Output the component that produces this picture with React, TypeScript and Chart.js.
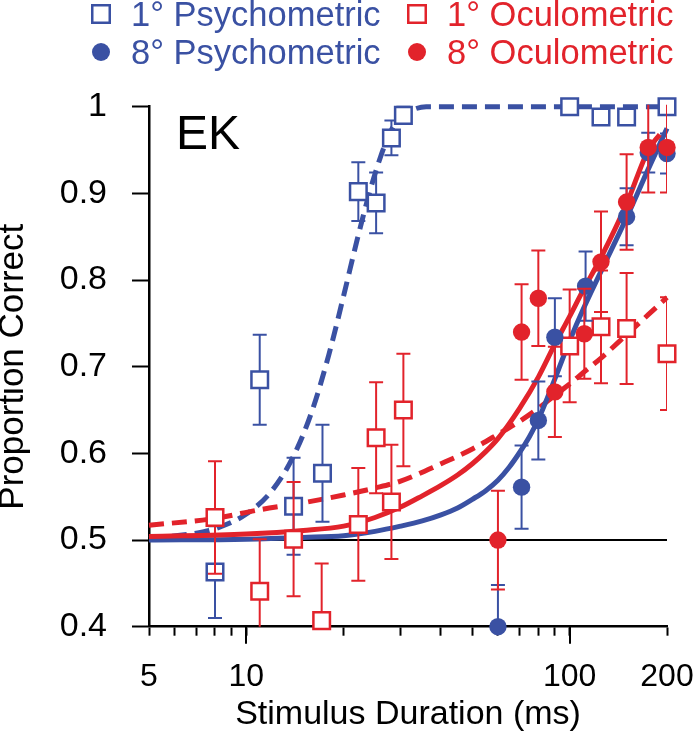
import React, { useEffect, useRef } from "react";
import { Chart, registerables } from "chart.js";

Chart.register(...registerables);

const BLUE = "#3a51a3";
const RED = "#e2232b";
const FONT = "'Liberation Sans', Arial, Helvetica, sans-serif";

// axis ticks
const xTicks = [5, 6, 7, 8, 9, 10, 20, 30, 40, 50, 60, 70, 80, 90, 100, 200];
const xMajorTicks = [10, 100];
const xLabelValues = [5, 10, 100, 200];
const xLabelTexts = ["5", "10", "100", "200"];
const yTicks = [0.4, 0.5, 0.6, 0.7, 0.8, 0.9, 1];
const yTickLabels = ["0.4", "0.5", "0.6", "0.7", "0.8", "0.9", "1"];

// 1° Psychometric (open blue squares)
const psy1X = [8, 11, 14, 17.2, 22.2, 25.2, 28.1, 30.6, 100, 125, 150, 200];
const psy1Y = [0.463, 0.685, 0.539, 0.577, 0.902, 0.889, 0.964, 0.99, 1.0, 0.988, 0.988, 1.0];
const psy1Err = [0.053, 0.052, 0.056, 0.056, 0.034, 0.035, 0.02, 0.01, 0, 0.006, 0.006, 0];

// 1° Oculometric (open red squares)
const ocu1X = [8, 11, 14, 17.1, 22.2, 25.2, 28.1, 30.6, 100, 125, 150, 200];
const ocu1Y = [0.526, 0.441, 0.501, 0.407, 0.518, 0.618, 0.544, 0.65, 0.724, 0.746, 0.744, 0.715];
const ocu1Err = [0.065, 0.06, 0.066, 0.066, 0.065, 0.064, 0.066, 0.065, 0.065, 0.065, 0.064, 0.065];

// 8° Psychometric (filled blue circles)
const psy8X = [60, 71, 80, 90, 112, 150, 175, 200];
const psy8Y = [0.4, 0.561, 0.638, 0.734, 0.793, 0.873, 0.947, 0.946];
const psy8Err = [0.048, 0.048, 0.045, 0.045, 0.04, 0.033, 0.023, 0.023];

// 8° Oculometric (filled red circles)
const ocu8X = [60, 71, 80, 90, 111, 125, 150, 175, 200];
const ocu8Y = [0.5, 0.74, 0.779, 0.671, 0.738, 0.821, 0.89, 0.953, 0.953];
const ocu8Err = [0.057, 0.055, 0.055, 0.052, 0.052, 0.058, 0.055, 0.052, 0.052];

// fitted curves
const fitPsy1X = [5, 7, 8, 10, 12, 14, 16, 18, 20, 22, 24, 26, 28, 30, 33, 36, 40, 60, 100, 150, 200];
const fitPsy1Y = [0.502, 0.508, 0.513, 0.53, 0.557, 0.597, 0.65, 0.714, 0.782, 0.846, 0.9, 0.942, 0.972, 0.988, 0.997, 1.0, 1.0, 1.0, 1.0, 1.0, 1.0];

const fitOcu1X = [5, 8, 11, 15, 20, 25, 30, 40, 50, 60, 70, 80, 90, 100, 110, 125, 150, 175, 200];
const fitOcu1Y = [0.517, 0.525, 0.535, 0.543, 0.552, 0.56, 0.568, 0.588, 0.605, 0.622, 0.637, 0.652, 0.667, 0.68, 0.693, 0.71, 0.737, 0.76, 0.78];

const fitPsy8X = [5, 10, 15, 20, 25, 30, 35, 40, 45, 50, 55, 60, 65, 70, 75, 80, 90, 100, 110, 125, 150, 175, 200];
const fitPsy8Y = [0.5, 0.501, 0.503, 0.505, 0.51, 0.516, 0.522, 0.529, 0.537, 0.547, 0.557, 0.569, 0.584, 0.601, 0.619, 0.639, 0.686, 0.73, 0.766, 0.81, 0.872, 0.928, 0.975];

const fitOcu8X = [5, 10, 15, 20, 25, 30, 35, 40, 45, 50, 55, 60, 70, 80, 90, 100, 110, 125, 150, 175, 190];
const fitOcu8Y = [0.504, 0.507, 0.511, 0.516, 0.526, 0.538, 0.551, 0.563, 0.575, 0.588, 0.602, 0.617, 0.652, 0.688, 0.726, 0.758, 0.788, 0.826, 0.888, 0.95, 0.968];

// chance line
const chanceX = [5, 200];
const chanceY = [0.5, 0.5];

const pts = (xs: number[], ys: number[]) => xs.map((x, i) => ({ x, y: ys[i] }));

const legendItems = [
  { label: "1° Psychometric", color: BLUE, marker: "square", left: 91, top: -3 },
  { label: "1° Oculometric", color: RED, marker: "square", left: 407, top: -3 },
  { label: "8° Psychometric", color: BLUE, marker: "circle", left: 91, top: 35 },
  { label: "8° Oculometric", color: RED, marker: "circle", left: 407, top: 35 },
];

export default function App() {
  const ref = useRef<HTMLCanvasElement>(null);

  useEffect(() => {
    if (!ref.current) return;

    const errorBars = {
      id: "errorBars",
      beforeDatasetDraw(chart: any, args: any) {
        const ds = chart.data.datasets[args.index];
        if (!ds.errors) return;
        const { ctx, chartArea } = chart;
        const xs = chart.scales.x;
        const ys = chart.scales.y;
        ctx.save();
        ctx.beginPath();
        ctx.rect(chartArea.left, chartArea.top - 2, chartArea.right - chartArea.left, chartArea.bottom - chartArea.top + 2);
        ctx.clip();
        ctx.strokeStyle = ds.barColor;
        ctx.lineWidth = 2;
        ds.data.forEach((p: any, i: number) => {
          const e = ds.errors[i];
          if (!e) return;
          const px = xs.getPixelForValue(p.x);
          const y1 = ys.getPixelForValue(p.y + e);
          const y2 = ys.getPixelForValue(p.y - e);
          ctx.beginPath();
          ctx.moveTo(px, y1);
          ctx.lineTo(px, y2);
          ctx.moveTo(px - 7, y1);
          ctx.lineTo(px + 7, y1);
          ctx.moveTo(px - 7, y2);
          ctx.lineTo(px + 7, y2);
          ctx.stroke();
        });
        ctx.restore();
      },
    };

    const majorTicks = {
      id: "majorTicks",
      beforeDatasetsDraw(chart: any) {
        const { ctx, chartArea } = chart;
        const xs = chart.scales.x;
        ctx.save();
        ctx.strokeStyle = "#000";
        ctx.lineWidth = 2;
        xMajorTicks.forEach((v) => {
          const px = Math.round(xs.getPixelForValue(v));
          ctx.beginPath();
          ctx.moveTo(px, chartArea.bottom);
          ctx.lineTo(px, chartArea.bottom + 17);
          ctx.stroke();
        });
        ctx.restore();
      },
    };

    const curve = (xs: number[], ys: number[], color: string, dashed: boolean, order: number) => ({
      data: pts(xs, ys),
      showLine: true,
      borderColor: color,
      borderWidth: 5,
      borderDash: dashed ? [15, 8] : [],
      pointRadius: 0,
      cubicInterpolationMode: "monotone",
      clip: false,
      order,
    });

    const squares = (xs: number[], ys: number[], err: number[], color: string, order: number) => ({
      data: pts(xs, ys),
      errors: err,
      barColor: color,
      pointStyle: "rect",
      pointRadius: 11.7,
      pointBorderWidth: 2.5,
      pointBorderColor: color,
      pointBackgroundColor: "#fff",
      borderColor: color,
      backgroundColor: "#fff",
      clip: false,
      order,
    });

    const circles = (xs: number[], ys: number[], err: number[], color: string, order: number) => ({
      data: pts(xs, ys),
      errors: err,
      barColor: color,
      pointStyle: "circle",
      pointRadius: 8.7,
      pointBorderWidth: 0,
      pointBackgroundColor: color,
      borderColor: color,
      backgroundColor: color,
      clip: false,
      order,
    });

    const chart = new Chart(ref.current, {
      type: "scatter",
      data: {
        datasets: [
          circles(ocu8X, ocu8Y, ocu8Err, RED, 1),
          circles(psy8X, psy8Y, psy8Err, BLUE, 2),
          squares(ocu1X, ocu1Y, ocu1Err, RED, 3),
          squares(psy1X, psy1Y, psy1Err, BLUE, 4),
          curve(fitOcu8X, fitOcu8Y, RED, false, 5),
          curve(fitPsy8X, fitPsy8Y, BLUE, false, 6),
          curve(fitOcu1X, fitOcu1Y, RED, true, 7),
          curve(fitPsy1X, fitPsy1Y, BLUE, true, 8),
          {
            data: pts(chanceX, chanceY),
            showLine: true,
            borderColor: "#000",
            borderWidth: 2,
            pointRadius: 0,
            order: 9,
          },
        ] as any,
      },
      options: {
        animation: false,
        responsive: false,
        maintainAspectRatio: false,
        devicePixelRatio: 1,
        layout: { padding: { top: 106.7, right: 30, left: 0, bottom: 0 } },
        plugins: {
          legend: { display: false },
          tooltip: { enabled: false },
        },
        scales: {
          x: {
            type: "logarithmic",
            min: 5,
            max: 200,
            afterBuildTicks: (s: any) => {
              s.ticks = xTicks.map((v) => ({ value: v }));
            },
            afterFit: (s: any) => {
              s.height = 106.3;
              s.paddingLeft = 0;
              s.paddingRight = 0;
            },
            grid: { drawOnChartArea: false, drawTicks: true, tickLength: 9, tickWidth: 2, tickColor: "#000" },
            border: { display: true, color: "#000", width: 2.5 },
            ticks: {
              autoSkip: false,
              maxRotation: 0,
              padding: 22,
              color: "#000",
              font: { family: FONT, size: 32, lineHeight: 1.2 },
              callback: (v: any) => {
                const i = xLabelValues.indexOf(Number(v));
                return i >= 0 ? xLabelTexts[i] : "";
              },
            },
            title: {
              display: true,
              text: "Stimulus Duration (ms)",
              color: "#000",
              font: { family: FONT, size: 34, lineHeight: 1 },
              padding: { top: 0, bottom: 1 },
            },
          },
          y: {
            type: "linear",
            min: 0.4,
            max: 1,
            afterBuildTicks: (s: any) => {
              s.ticks = yTicks.map((v) => ({ value: v }));
            },
            afterFit: (s: any) => {
              s.width = 149;
              s.paddingTop = 0;
              s.paddingBottom = 0;
            },
            grid: { drawOnChartArea: false, drawTicks: true, tickLength: 17, tickWidth: 2, tickColor: "#000" },
            border: { display: true, color: "#000", width: 2.5 },
            ticks: {
              autoSkip: false,
              padding: 25,
              color: "#000",
              font: { family: FONT, size: 34 },
              callback: (v: any) => {
                const i = yTicks.findIndex((t) => Math.abs(t - Number(v)) < 1e-9);
                return i >= 0 ? yTickLabels[i] : "";
              },
            },
            title: {
              display: true,
              text: "Proportion Correct",
              color: "#000",
              font: { family: FONT, size: 35, lineHeight: 0.75 },
              padding: { top: 0, bottom: 0 },
            },
          },
        },
      } as any,
      plugins: [errorBars, majorTicks],
    });

    return () => chart.destroy();
  }, []);

  return (
    <div style={{ position: "fixed", left: 0, top: 0, width: 697, height: 733, background: "#fff" }}>
      <canvas ref={ref} width={697} height={733} style={{ display: "block", width: 697, height: 733 }} />
      {legendItems.map((it) => (
        <div
          key={it.label}
          style={{
            position: "absolute",
            left: it.left,
            top: it.top,
            display: "flex",
            alignItems: "center",
            height: 34,
            fontFamily: FONT,
            fontSize: 34.5,
            lineHeight: "34px",
            color: it.color,
            whiteSpace: "nowrap",
          }}
        >
          <svg width={20} height={20} style={{ marginRight: 20, display: "block" }}>
            {it.marker === "square" ? (
              <rect x={1.25} y={1.25} width={17.5} height={17.5} fill="#fff" stroke={it.color} strokeWidth={2.5} />
            ) : (
              <circle cx={10} cy={10} r={9} fill={it.color} />
            )}
          </svg>
          <span>{it.label}</span>
        </div>
      ))}
      <div
        style={{
          position: "absolute",
          left: 176,
          top: 109,
          fontFamily: FONT,
          fontSize: 48,
          lineHeight: "48px",
          color: "#000",
        }}
      >
        EK
      </div>
    </div>
  );
}
